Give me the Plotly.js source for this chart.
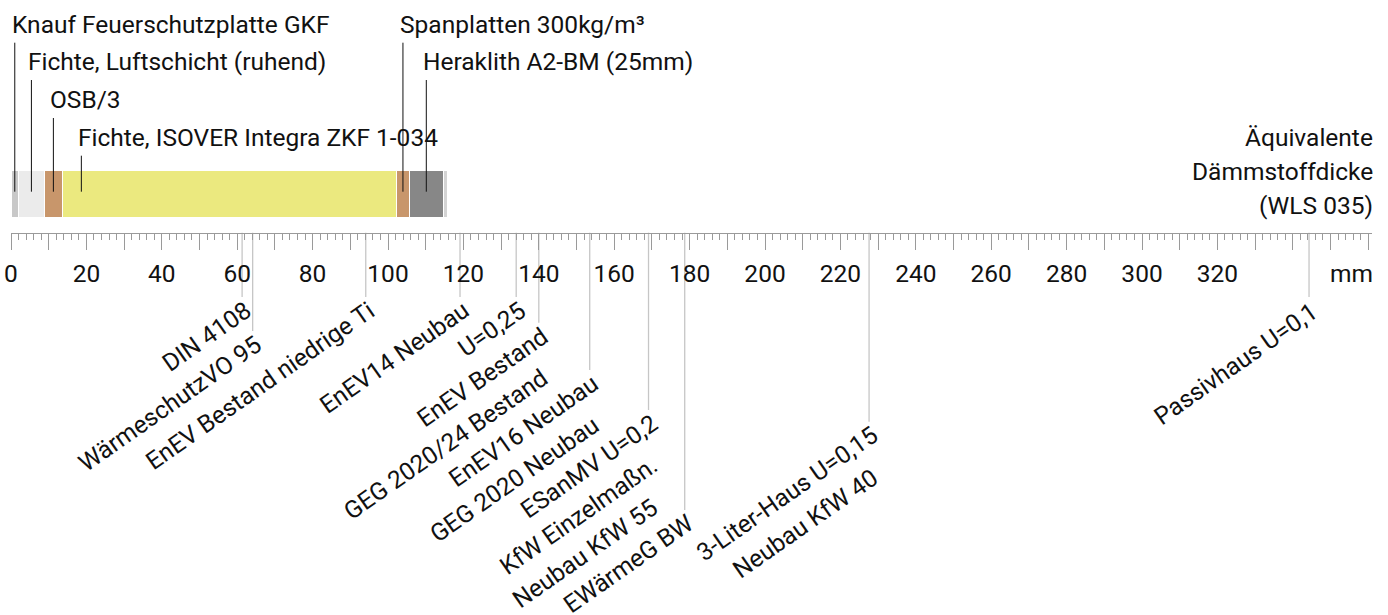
<!DOCTYPE html>
<html><head><meta charset="utf-8">
<script src="https://cdn.plot.ly/plotly-3.0.1.min.js"></script>
<style>html,body{margin:0;padding:0;background:#fff}#chart{width:1388px;height:615px}</style>
</head><body><div id="chart"></div>
<script>
// ---- DATA ----
// Wall layers, expressed as equivalent insulation thickness (mm, WLS 035)
const layerNames = ["Knauf Feuerschutzplatte GKF", "Fichte, Luftschicht (ruhend)", "OSB/3",
  "Fichte, ISOVER Integra ZKF 1-034", "Spanplatten 300kg/m³", "Heraklith A2-BM (25mm)", ""];
const layerThickness = [2.0, 6.83, 4.83, 88.6, 3.4, 9.0, 1.1];

// Reference standards (equivalent insulation thickness, mm)
const refValues = [61.3, 64.1, 94.1, 119.1, 134.0, 140.0, 153.5, 169.1, 178.7, 227.6, 344.3];
const refLabels = [
  ["DIN 4108"], ["WärmeschutzVO 95"], ["EnEV Bestand niedrige Ti"], ["EnEV14 Neubau"], ["U=0,25"],
  ["EnEV Bestand", "GEG 2020/24 Bestand"], ["EnEV16 Neubau", "GEG 2020 Neubau"],
  ["ESanMV U=0,2", "KfW Einzelmaßn.", "Neubau KfW 55"], ["EWärmeG BW"],
  ["3-Liter-Haus U=0,15", "Neubau KfW 40"], ["Passivhaus U=0,1"]
];

// Axis tick labels
const tickLabelValues = [0, 20, 40, 60, 80, 100, 120, 140, 160, 180, 200, 220, 240, 260, 280, 300, 320];
const tickLabels = ["0", "20", "40", "60", "80", "100", "120", "140", "160", "180", "200", "220", "240", "260", "280", "300", "320"];
const axisUnit = "mm";
const axisTitleLines = ["Äquivalente", "Dämmstoffdicke", "(WLS 035)"];

// ---- STYLE / LAYOUT ----
const layerColors = ["#c8c8c8", "#ebebeb", "#c8966b", "#ebe97f", "#c8966b", "#878787", "#d4d4d4"];
const refLineBottoms = [297, 331, 297, 297, 297, 322.7, 370, 410, 510, 421.7, 297]; // px from top
const FONT = "Roboto, 'Noto Sans', sans-serif";
const FS = 24.5;
const H = 615;
const axisY = 232.7;
const barCenter = 194, barWidth = 46.3;
const rowCenters = [24, 61.5, 99, 137];
const rowLineTops = [42.7, 80, 118, 155.7];
const stackStep = 42;
const xMax = 361;

const traces = [];
layerThickness.forEach((t, i) => {
  traces.push({
    type: 'bar', orientation: 'h', x: [t], y: [barCenter], width: [barWidth],
    marker: {color: layerColors[i], line: {color: '#ffffff', width: 1}},
    hoverinfo: 'skip', showlegend: false
  });
});

// reference lines
const rx = [], ry = [];
refValues.forEach((v, i) => { rx.push(v, v, null); ry.push(axisY, refLineBottoms[i], null); });
traces.push({type: 'scatter', mode: 'lines', x: rx, y: ry, line: {color: '#c6c6c6', width: 1.3},
  hoverinfo: 'skip', showlegend: false});

// pointer lines for layers
const px = [], py = [];
const annotations = [];
let start = 0;
layerThickness.forEach((t, i) => {
  const p = start + Math.min(t / 2, 5);
  start += t;
  if (!layerNames[i]) return;
  const row = i % 4;
  px.push(p, p, null); py.push(rowLineTops[row], 191.7, null);
  annotations.push({x: p, y: rowCenters[row], xref: 'x', yref: 'y', text: layerNames[i],
    showarrow: false, xanchor: 'left', yanchor: 'middle', xshift: -5,
    font: {family: FONT, size: FS, color: '#111'}});
});
traces.push({type: 'scatter', mode: 'lines', x: px, y: py, line: {color: '#111', width: 1},
  hoverinfo: 'skip', showlegend: false});

// rotated reference labels
refValues.forEach((v, i) => {
  refLabels[i].forEach((lab, k) => {
    annotations.push({x: v, y: refLineBottoms[i] + k * stackStep, xref: 'x', yref: 'y', text: lab,
      showarrow: false, xanchor: 'right', yanchor: 'top', textangle: -35, xshift: 17, yshift: 4,
      font: {family: FONT, size: FS, color: '#111'}});
  });
});

// axis title lines (right)
const titleYs = [137, 171, 205];
axisTitleLines.forEach((t, i) => {
  annotations.push({x: 1, y: titleYs[i], xref: 'paper', yref: 'y', text: t, showarrow: false,
    xanchor: 'right', yanchor: 'middle', xshift: 3, font: {family: FONT, size: FS, color: '#111'}});
});
annotations.push({x: 1, y: 273, xref: 'paper', yref: 'y', text: axisUnit, showarrow: false,
  xanchor: 'right', yanchor: 'middle', xshift: 3, font: {family: FONT, size: FS, color: '#111'}});

// major ticks every 10 mm, labels from tickLabels
const tv = [], tt = [];
for (let v = 0; v <= 360; v += 10) {
  tv.push(v);
  const j = tickLabelValues.indexOf(v);
  tt.push(j >= 0 ? tickLabels[j] : '');
}

const layout = {
  width: 1388, height: H,
  margin: {l: 11, r: 16, t: 0, b: 0, pad: 0},
  paper_bgcolor: '#fff', plot_bgcolor: 'rgba(0,0,0,0)',
  barmode: 'stack', bargap: 0,
  showlegend: false,
  font: {family: FONT, size: FS, color: '#111'},
  xaxis: {
    range: [0, xMax], anchor: 'free', position: 1 - axisY / H, side: 'bottom',
    showgrid: false, zeroline: false, showline: true, linecolor: '#9a9a9a', linewidth: 1,
    tickmode: 'array', tickvals: tv, ticktext: tt,
    ticks: 'outside', ticklen: 16, tickwidth: 1, tickcolor: '#9a9a9a',
    tickfont: {family: FONT, size: FS, color: '#111'}, ticklabelstandoff: 3,
    minor: {dtick: 2, tick0: 0, ticks: 'outside', ticklen: 6, tickwidth: 1, tickcolor: '#9a9a9a', showgrid: false},
    fixedrange: true
  },
  yaxis: {range: [H, 0], visible: false, showgrid: false, zeroline: false, fixedrange: true},
  annotations: annotations
};

Plotly.newPlot('chart', traces, layout, {displayModeBar: false, staticPlot: true});
</script>
</body></html>
